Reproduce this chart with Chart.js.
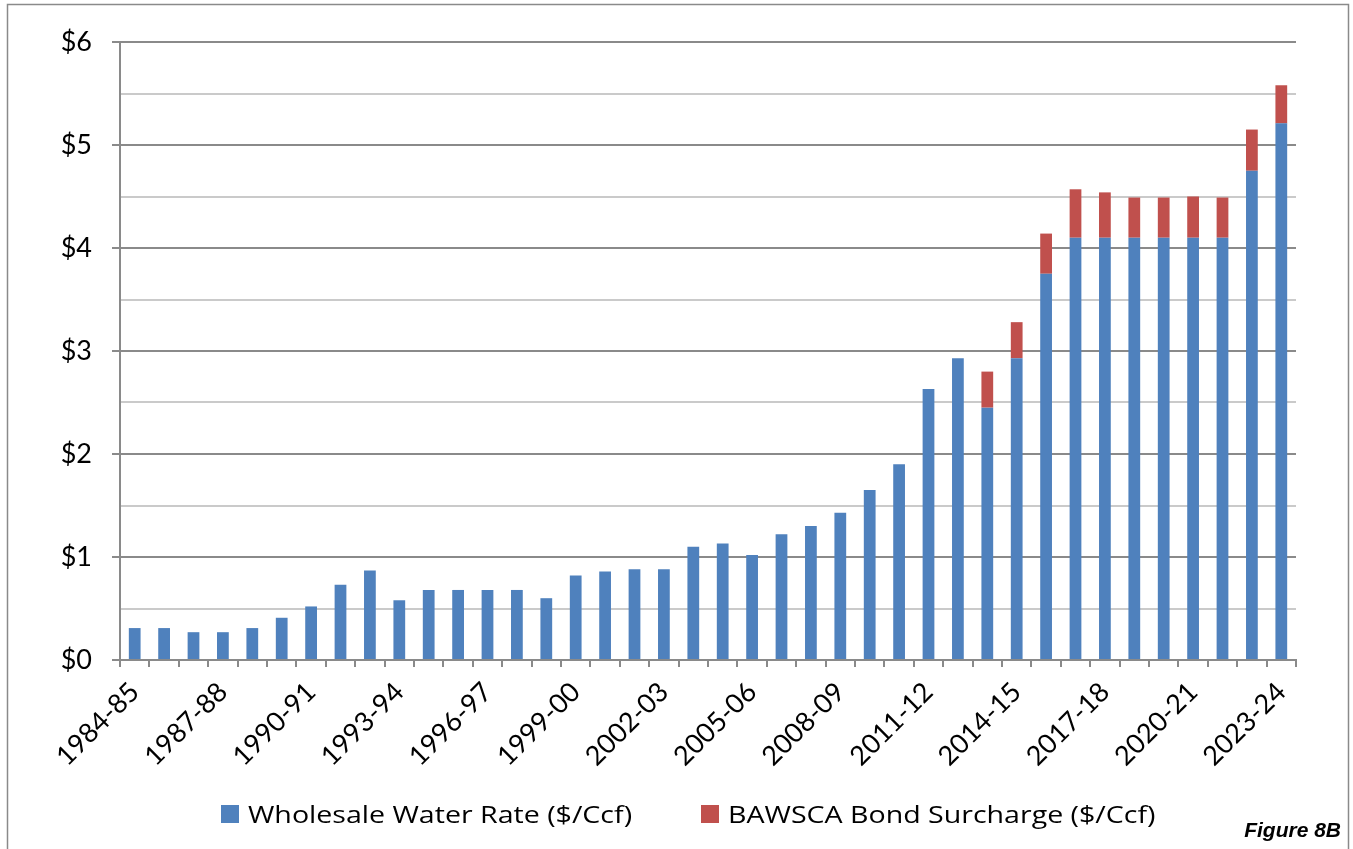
<!DOCTYPE html>
<html lang="en">
<head>
    <meta charset="UTF-8">
    <title>Wholesale Water Rate</title>
    <script src="https://cdn.jsdelivr.net/npm/chart.js"></script>
    <style>
        body { margin: 0; background: #fff; }
        #wrap { position: relative; width: 1353px; height: 849px; overflow: hidden; }
        #legend .item { position: absolute; top: 797px; display: flex; align-items: center; white-space: nowrap;
                        font-family: 'Open Sans', sans-serif; font-size: 24px; color: #000; }
        #legend .box { width: 18px; height: 18px; margin-right: 9px; }
        #legend .txt { display: inline-block; transform: scaleX(1.19); transform-origin: left center; }
        #note { position: absolute; right: 12px; top: 818px; font: italic bold 21px 'Liberation Sans', sans-serif; }
    </style>
</head>
<body>
<div id="wrap">
    <canvas id="rateChart" width="1353" height="849"></canvas>
    <div id="legend"></div>
    <div id="note">Figure 8B</div>
</div>
<script>
    const years = ['1984-85', '1985-86', '1986-87', '1987-88', '1988-89', '1989-90', '1990-91', '1991-92',
        '1992-93', '1993-94', '1994-95', '1995-96', '1996-97', '1997-98', '1998-99', '1999-00',
        '2000-01', '2001-02', '2002-03', '2003-04', '2004-05', '2005-06', '2006-07', '2007-08',
        '2008-09', '2009-10', '2010-11', '2011-12', '2012-13', '2013-14', '2014-15', '2015-16',
        '2016-17', '2017-18', '2018-19', '2019-20', '2020-21', '2021-22', '2022-23', '2023-24'];

    // $/Ccf
    const wholesale = [0.31, 0.31, 0.27, 0.27, 0.31, 0.41, 0.52, 0.73, 0.87, 0.58, 0.68, 0.68, 0.68, 0.68, 0.60,
        0.82, 0.86, 0.88, 0.88, 1.10, 1.13, 1.02, 1.22, 1.30, 1.43, 1.65, 1.90, 2.63, 2.93, 2.45,
        2.93, 3.75, 4.10, 4.10, 4.10, 4.10, 4.10, 4.10, 4.75, 5.21];
    const surcharge = [null, null, null, null, null, null, null, null, null, null, null, null, null, null, null,
        null, null, null, null, null, null, null, null, null, null, null, null, null, null, 0.35,
        0.35, 0.39, 0.47, 0.44, 0.39, 0.39, 0.40, 0.39, 0.40, 0.37];

    const yTicks = [0, 1, 2, 3, 4, 5, 6];

    const frame = {
        id: 'frame',
        beforeDraw(chart) {
            const c = chart.ctx;
            c.save();
            c.fillStyle = '#fff';
            c.fillRect(0, 0, chart.width, chart.height);
            c.strokeStyle = '#8a8a8a';
            c.lineWidth = 1.5;
            c.strokeRect(7.5, 4.5, 1341, 900);
            c.restore();
        }
    };

    const isMajor = v => yTicks.includes(v);

    var ctx = document.getElementById('rateChart').getContext('2d');
    var chart = new Chart(ctx, {
        type: 'bar',
        data: {
            labels: years,
            datasets: [{
                label: 'Wholesale Water Rate ($/Ccf)',
                data: wholesale,
                backgroundColor: '#4F81BD',
                barPercentage: 0.4,
                categoryPercentage: 1
            }, {
                label: 'BAWSCA Bond Surcharge ($/Ccf)',
                data: surcharge,
                backgroundColor: '#C0504D',
                barPercentage: 0.4,
                categoryPercentage: 1
            }]
        },
        options: {
            responsive: false,
            animation: false,
            layout: { padding: { left: 0, right: 57, top: 42, bottom: 0 } },
            plugins: {
                legend: { display: false },
                tooltip: { enabled: false }
            },
            scales: {
                x: {
                    stacked: true,
                    grid: { display: true, drawOnChartArea: false, tickLength: 7, color: '#8a8a8a', lineWidth: 2 },
                    border: { color: '#8a8a8a', width: 2 },
                    ticks: {
                        autoSkip: false,
                        minRotation: 45,
                        maxRotation: 45,
                        padding: 9,
                        color: '#000',
                        font: { family: 'Lato', size: 27 },
                        callback: (v, i) => i % 3 === 0 ? years[i] : ''
                    },
                    afterFit: s => { s.height = 189; }
                },
                y: {
                    stacked: true,
                    min: 0,
                    max: 6,
                    ticks: {
                        stepSize: 0.5,
                        color: '#000',
                        padding: 20,
                        font: { family: 'Lato', size: 27 },
                        callback: v => isMajor(v) ? '$' + v : ''
                    },
                    grid: {
                        lineWidth: 2,
                        tickLength: 8,
                        color: c => c.tick && isMajor(c.tick.value) ? '#8a8a8a' : '#cacaca',
                        tickColor: c => c.tick && isMajor(c.tick.value) ? '#8a8a8a' : 'rgba(0,0,0,0)'
                    },
                    border: { color: '#8a8a8a', width: 2 },
                    afterFit: s => { s.width = 120; }
                }
            }
        },
        plugins: [frame]
    });

    // legend built from the datasets
    const legendLeft = [221, 701];
    const legend = document.getElementById('legend');
    chart.data.datasets.forEach((ds, i) => {
        const item = document.createElement('div');
        item.className = 'item';
        item.style.left = legendLeft[i] + 'px';
        item.innerHTML = '<span class="box" style="background:' + ds.backgroundColor + '"></span><span class="txt">' + ds.label + '</span>';
        legend.appendChild(item);
    });
</script>
</body>
</html>
